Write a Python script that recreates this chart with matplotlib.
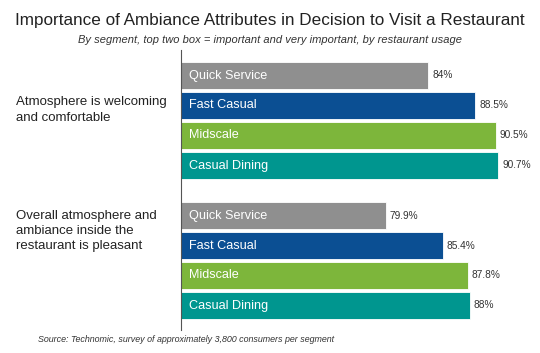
import matplotlib
matplotlib.use("Agg")
import matplotlib.pyplot as plt
import numpy as np

plt.rcParams['font.family'] = ['Liberation Sans', 'DejaVu Sans']

segments = ["Quick Service", "Fast Casual", "Midscale", "Casual Dining"]
attributes = ["Atmosphere is welcoming\nand comfortable",
              "Overall atmosphere and\nambiance inside the\nrestaurant is pleasant"]
welcoming = [84.0, 88.5, 90.5, 90.7]
pleasant = [79.9, 85.4, 87.8, 88.0]
value_labels = [["84%", "88.5%", "90.5%", "90.7%"],
                ["79.9%", "85.4%", "87.8%", "88%"]]
colors = ["#8f8f8f", "#0b4f93", "#7db63b", "#00968f"]

W, H = 540, 353
fig = plt.figure(figsize=(W / 100, H / 100), dpi=100)
ax_left, ax_right = 181, 540
ax_top, ax_bot = 50, 330
ax = fig.add_axes([ax_left / W, 1 - ax_bot / H, (ax_right - ax_left) / W, (ax_bot - ax_top) / H])

group_gap = 5 / 3
x0 = 60.3
ax.set_xlim(x0, x0 + (ax_right - ax_left) / 10.44)
ax.set_ylim((ax_bot - 75.5) / 30, (ax_top - 75.5) / 30)

for g, vals in enumerate([welcoming, pleasant]):
    for i, (seg, v) in enumerate(zip(segments, vals)):
        y = i + g * (3 + group_gap)
        ax.barh(y, v - x0, left=x0, height=0.87, color=colors[i], edgecolor="white", linewidth=0.6)
        ax.text(x0 + 0.75, y, seg, color="white", fontsize=9.1, va="center", ha="left")
        ax.text(v + 0.35, y, value_labels[g][i], color="#333333", fontsize=7.3, va="center", ha="left")

ax.set_xticks([])
ax.set_yticks([])
for s in ["top", "right", "bottom"]:
    ax.spines[s].set_visible(False)
ax.spines["left"].set_color("#555555")
ax.spines["left"].set_linewidth(0.8)

fig.text(16 / W, 1 - 110 / H, attributes[0], fontsize=9.5, va="center", ha="left", color="#222222", linespacing=1.35)
fig.text(16 / W, 1 - 231 / H, attributes[1], fontsize=9.5, va="center", ha="left", color="#222222", linespacing=1.35)

fig.text(0.5, 1 - 20 / H, "Importance of Ambiance Attributes in Decision to Visit a Restaurant",
         fontsize=12.3, ha="center", va="center", color="#222222")
fig.text(0.5, 1 - 40 / H, "By segment, top two box = important and very important, by restaurant usage",
         fontsize=8.0, style="italic", ha="center", va="center", color="#333333")
fig.text(38 / W, 1 - 340 / H, "Source: Technomic, survey of approximately 3,800 consumers per segment",
         fontsize=6.4, style="italic", ha="left", va="center", color="#333333")

fig.savefig("out.png", dpi=100)
